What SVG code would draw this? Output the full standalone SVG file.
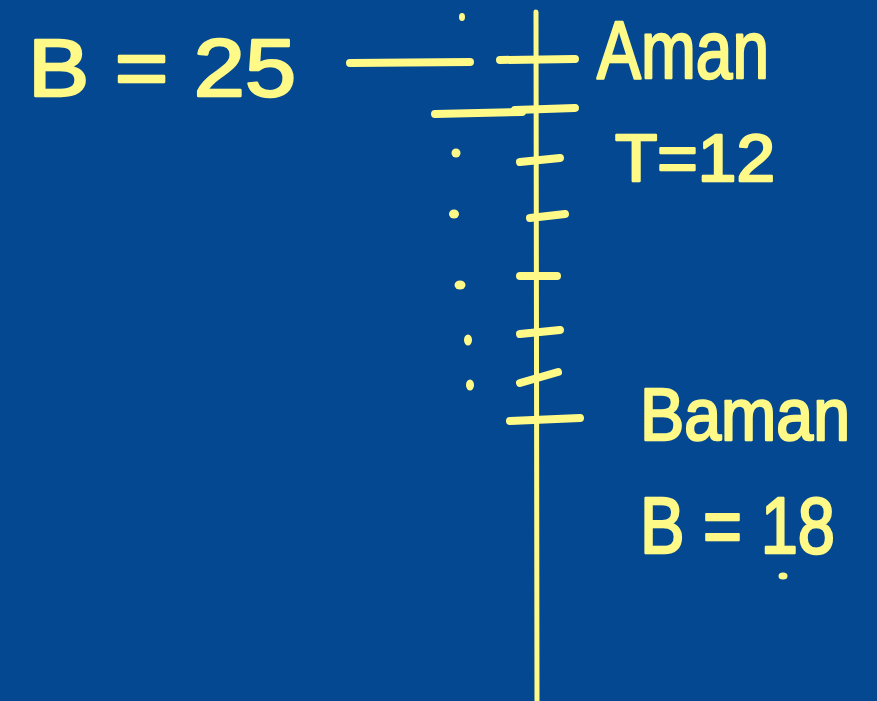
<svg xmlns="http://www.w3.org/2000/svg" width="877" height="701" viewBox="0 0 877 701">
<style>
.ink{stroke:#FFFA88;stroke-linecap:round;stroke-linejoin:round;fill:none}
.dot{fill:#FFFA88}
.hw{font-family:"Liberation Sans","DejaVu Sans",sans-serif;fill:#FFFA88;stroke:#FFFA88;stroke-width:2.5;stroke-linejoin:round}
</style>
<rect width="877" height="701" fill="#044891"/>
<g id="axis">
<path class="ink" stroke-width="5" d="M536 12 L537 701"/>
</g>
<g id="ticks" class="ink" stroke-width="8">
<path d="M350 63 L470 62"/>
<path d="M500 60 L575 59"/>
<path d="M435 114 L522 112"/>
<path d="M515 110 L575 108"/>
<path d="M520 162 L560 158"/>
<path d="M530 218 L565 214"/>
<path d="M520 276 L557 276"/>
<path d="M520 334 L560 330"/>
<path d="M520 383 L558 372"/>
<path d="M510 421 L580 418"/>
</g>
<g id="dots">
<ellipse class="dot" cx="462" cy="17" rx="3" ry="4"/>
<ellipse class="dot" cx="456" cy="153" rx="4.5" ry="4.5"/>
<ellipse class="dot" cx="454" cy="214" rx="5" ry="4.5"/>
<ellipse class="dot" cx="460" cy="285" rx="5.5" ry="4.5"/>
<ellipse class="dot" cx="468" cy="340" rx="4" ry="5.5"/>
<ellipse class="dot" cx="470" cy="385" rx="4" ry="5.5"/>
<ellipse class="dot" cx="783" cy="576" rx="4.5" ry="3.5"/>
</g>
<g id="labels">
<text class="hw" x="28" y="96" font-size="82" textLength="268" lengthAdjust="spacingAndGlyphs">B = 25</text>
<text class="hw" x="597" y="78" font-size="82" textLength="172" lengthAdjust="spacingAndGlyphs">Aman</text>
<text class="hw" x="615" y="181" font-size="66" textLength="160" lengthAdjust="spacingAndGlyphs">T=12</text>
<text class="hw" x="640" y="440" font-size="74" textLength="210" lengthAdjust="spacingAndGlyphs">Baman</text>
<text class="hw" x="640" y="553" font-size="80" textLength="195" lengthAdjust="spacingAndGlyphs">B = 18</text>
</g>
</svg>
